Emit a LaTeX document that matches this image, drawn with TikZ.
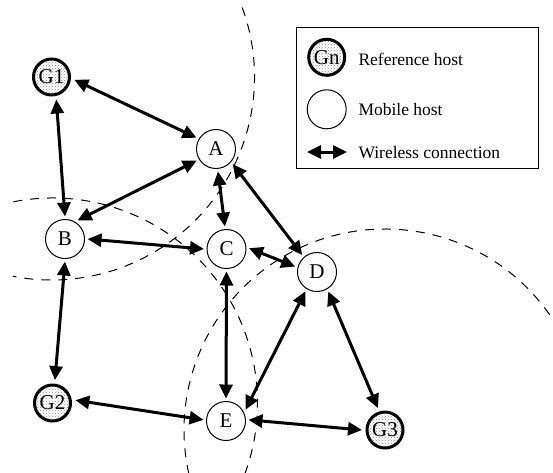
\documentclass[tikz,border=0pt]{standalone}
\usepackage{fontspec}
\setmainfont{Liberation Serif}
\usetikzlibrary{arrows.meta,patterns}

\tikzset{
  >={Triangle[length=14pt,width=13pt]},
  host/.style={circle, draw, line width=1pt, minimum size=39pt, inner sep=0pt,
    outer sep=3pt, font=\fontsize{21}{24}\selectfont},
  refhost/.style={circle, draw, line width=3pt, minimum size=36pt, inner sep=0pt,
    outer sep=5pt, preaction={fill=white}, pattern=crosshatch dots,
    pattern color=black!45, font=\fontsize{21}{24}\selectfont},
  conn/.style={<->, line width=3pt},
  radiorange/.style={dash pattern=on 9pt off 8pt, line width=1pt},
  legtext/.style={anchor=west, inner sep=0pt, font=\fontsize{17.5}{20}\selectfont}
}

\begin{document}
\begin{tikzpicture}[x=1pt,y=-1pt]
\useasboundingbox (0,0) rectangle (553,472);

% hosts
\node[refhost] (G1) at (51.5,77) {G1};
\node[refhost] (G2) at (52.5,403) {G2};
\node[refhost] (G3) at (385,430) {G3};
\node[host] (A) at (216,149) {A};
\node[host] (B) at (65,239) {B};
\node[host] (C) at (226.5,249) {C};
\node[host] (D) at (317,272) {D};
\node[host] (E) at (226,421) {E};

% radio ranges of the reference hosts
\begin{scope}
\clip (0,0) rectangle (553,472);
\draw[radiorange] (G1.center) ++(-20:203) arc[start angle=-20, end angle=101, radius=203];
\draw[radiorange] (G2.center) ++(-101:205) arc[start angle=-101, end angle=20, radius=205];
\draw[radiorange] (G3.center) ++(-35:201) arc[start angle=-35, end angle=-193, radius=201];
\end{scope}

% wireless links
\draw[conn] (G1.-7) -- (A.150);
\draw[conn] (G1.-78) -- (B.90);
\draw[conn] (A.211) -- (B.56);
\draw[conn] (A.-85) -- (C.94);
\draw[conn] (A.-42) -- (D.131);
\draw[conn] (B.0) -- (C.180);
\draw[conn] (C.2) -- (D.166);
\draw[conn] (C.-90) -- (E.90);
\draw[conn] (D.239) -- (E.30);
\draw[conn] (D.-60) -- (G3.108);
\draw[conn] (E.3) -- (G3.180);
\draw[conn] (B.-90) -- (G2.84);
\draw[conn] (G2.7) -- (E.177);

% legend
\draw[line width=1.2pt] (296.7,27.3) rectangle (538.3,168.3);
\node[refhost] (lgG) at (326.7,57.3) {Gn};
\node[host] (lgM) at (326.7,109.3) {};
\coordinate (lgL) at (307,152);
\coordinate (lgR) at (347,152);
\draw[conn] (lgL) -- (lgR);
\node[legtext] (t1) at (358.3,59.3) {Reference host};
\node[legtext] (t2) at (358.3,110) {Mobile host};
\node[legtext] (t3) at (358.3,152.3) {Wireless connection};
\end{tikzpicture}
\end{document}
